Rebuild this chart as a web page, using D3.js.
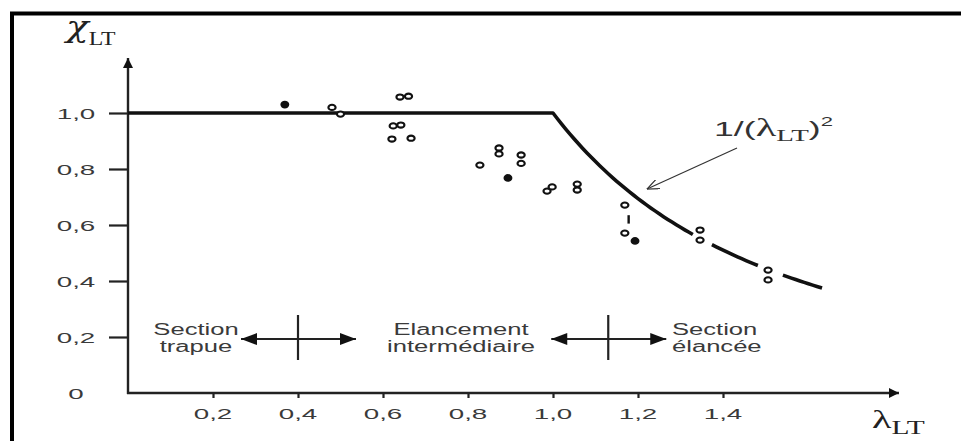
<!DOCTYPE html>
<html>
<head>
<meta charset="utf-8">
<script src="https://cdn.jsdelivr.net/npm/d3@7"></script>
<style>
  body { margin: 0; background: #fff; }
  svg { display: block; }
</style>
</head>
<body>
<svg id="chart" width="961" height="441"></svg>
<script>
const svg = d3.select("#chart");

// ticks
const xTicks = [0.2, 0.4, 0.6, 0.8, 1.0, 1.2, 1.4];
const yTicks = [0, 0.2, 0.4, 0.6, 0.8, 1.0];

// test results (lambda_LT, chi_LT, filled marker?)
const ptLambda = [0.369, 0.48, 0.50, 0.64, 0.66, 0.624, 0.642, 0.621, 0.666,
  0.873, 0.873, 0.828, 0.925, 0.925, 0.894, 0.986, 0.998, 1.057, 1.057,
  1.169, 1.169, 1.193, 1.346, 1.346, 1.506, 1.506];
const ptChi = [1.03, 1.02, 0.996, 1.057, 1.06, 0.954, 0.957, 0.907, 0.91,
  0.875, 0.854, 0.814, 0.85, 0.82, 0.768, 0.721, 0.736, 0.746, 0.725,
  0.671, 0.571, 0.543, 0.582, 0.546, 0.439, 0.404];
const ptFilled = [1, 0, 0, 0, 0, 0, 0, 0, 0,
  0, 0, 0, 0, 0, 1, 0, 0, 0, 0,
  0, 0, 1, 0, 0, 0, 0];

// curve pieces (lambda ranges), broken where the markers sit
const curveFrom = [0, 1.374, 1.541];
const curveTo = [1.329, 1.482, 1.633];

// regime limits and labels
const limits = [0.4, 1.13];
const regionText = [["Section", "trapue"], ["Elancement", "intermédiaire"], ["Section", "élancée"]];

const x = d3.scaleLinear().domain([0, 1.8]).range([128, 893]);
const y = d3.scaleLinear().domain([0, 1]).range([393, 113]);

const fmt = d => d === 0 ? "0" : d3.format(".1f")(d).replace(".", ",");
const SANS = "'Liberation Sans', Arial, sans-serif";
const SERIF = "'Liberation Serif', 'DejaVu Serif', serif";

// the source picture is stretched sideways, so the text is too
function wideText(px, py, str, size, sx, anchor) {
  return svg.append("text")
    .attr("transform", `translate(${px},${py}) scale(${sx},1)`)
    .attr("text-anchor", anchor || "middle")
    .attr("fill", "#3a3a3a")
    .attr("font-family", SANS).attr("font-size", size)
    .text(str);
}

// frame (top and left edges only, rest is cropped)
svg.append("line").attr("x1", 10).attr("x2", 961).attr("y1", 13.5).attr("y2", 13.5)
  .attr("stroke", "#000").attr("stroke-width", 4);
svg.append("line").attr("x1", 12).attr("x2", 12).attr("y1", 12).attr("y2", 441)
  .attr("stroke", "#000").attr("stroke-width", 4);

const defs = svg.append("defs");
defs.append("marker").attr("id", "head").attr("viewBox", "0 0 10 10")
  .attr("refX", 10).attr("refY", 5).attr("markerWidth", 11).attr("markerHeight", 10)
  .attr("markerUnits", "userSpaceOnUse").attr("orient", "auto-start-reverse")
  .append("path").attr("d", "M0,0 L10,5 L0,10 Z").attr("fill", "#111");
defs.append("marker").attr("id", "bighead").attr("viewBox", "0 0 16 12")
  .attr("refX", 16).attr("refY", 6).attr("markerWidth", 18).attr("markerHeight", 12)
  .attr("markerUnits", "userSpaceOnUse").attr("orient", "auto-start-reverse")
  .append("path").attr("d", "M0,0 L16,6 L0,12 Z").attr("fill", "#111");
defs.append("marker").attr("id", "thin").attr("viewBox", "0 0 12 10")
  .attr("refX", 12).attr("refY", 5).attr("markerWidth", 13).attr("markerHeight", 10)
  .attr("markerUnits", "userSpaceOnUse").attr("orient", "auto")
  .append("path").attr("d", "M0,0 L12,5 L0,10").attr("fill", "none")
  .attr("stroke", "#333").attr("stroke-width", 1.2);

// axes (ticks from d3, labels redrawn stretched)
const yAxis = svg.append("g").attr("transform", `translate(${x(0)},0)`)
  .call(d3.axisLeft(y).tickValues(yTicks.filter(d => d > 0)).tickSize(19).tickFormat(""));
const xAxis = svg.append("g").attr("transform", `translate(0,${y(0)})`)
  .call(d3.axisBottom(x).tickValues(xTicks).tickSize(5).tickFormat(""));
[yAxis, xAxis].forEach(g => {
  g.select(".domain").remove();
  g.selectAll(".tick line").attr("stroke", "#222").attr("stroke-width", 2.2);
});
yTicks.forEach(t => wideText(76, y(t) + 5.5, fmt(t), 15, 1.85));
xTicks.forEach(t => wideText(x(t), 419, fmt(t), 15, 1.85));

svg.append("line").attr("x1", x(0)).attr("x2", x(0)).attr("y1", y(0) + 1).attr("y2", 58)
  .attr("stroke", "#222").attr("stroke-width", 2.4).attr("marker-end", "url(#head)");
svg.append("line").attr("x1", x(0) - 1).attr("x2", 899).attr("y1", y(0)).attr("y2", y(0))
  .attr("stroke", "#222").attr("stroke-width", 2.4).attr("marker-end", "url(#head)");

// axis titles
const chi = svg.append("text").attr("transform", "translate(66,37) scale(1.25,1)").attr("fill", "#222")
  .attr("font-family", SERIF);
chi.append("tspan").attr("font-size", 30).attr("font-family", "'DejaVu Serif', serif")
  .attr("font-style", "italic").text("χ");
chi.append("tspan").attr("font-size", 19).attr("dy", 8).text("LT");

const lam = svg.append("text").attr("transform", "translate(872,428) scale(1.55,1)").attr("fill", "#222")
  .attr("font-family", SERIF);
lam.append("tspan").attr("font-size", 26).text("λ");
lam.append("tspan").attr("font-size", 19).attr("dy", 6).text("LT");

// design curve: plateau at 1 then 1/lambda^2
const chiCurve = l => l <= 1 ? 1 : 1 / (l * l);
const line = d3.line().x(d => x(d)).y(d => y(chiCurve(d)));
curveFrom.forEach((a, i) => {
  const pts = d3.range(a, curveTo[i], 0.01).concat([curveTo[i]]);
  if (a < 1 && curveTo[i] > 1) pts.push(1);
  pts.sort((p, q) => p - q);
  svg.append("path").attr("d", line(pts)).attr("fill", "none")
    .attr("stroke", "#111").attr("stroke-width", 3.6).attr("stroke-linejoin", "round");
});

// test points
svg.append("g").selectAll("ellipse").data(ptLambda).join("ellipse")
  .attr("cx", d => x(d)).attr("cy", (d, i) => y(ptChi[i]))
  .attr("rx", (d, i) => ptFilled[i] ? 3.4 : 3.6).attr("ry", (d, i) => ptFilled[i] ? 2.8 : 2.6)
  .attr("fill", (d, i) => ptFilled[i] ? "#111" : "#fff")
  .attr("stroke", "#111").attr("stroke-width", 2.1);
svg.append("line").attr("x1", x(1.178)).attr("x2", x(1.178)).attr("y1", y(0.635)).attr("y2", y(0.605))
  .attr("stroke", "#111").attr("stroke-width", 2.4);

// annotation of the curve
const ann = svg.append("text").attr("transform", "translate(714,136) scale(1.7,1)").attr("fill", "#333")
  .attr("font-family", SANS).attr("font-size", 21);
ann.append("tspan").text("1/(");
ann.append("tspan").attr("font-family", SERIF).attr("font-size", 25).text("λ");
ann.append("tspan").attr("font-family", SERIF).attr("font-size", 17).attr("dy", 5).text("LT");
ann.append("tspan").attr("dy", -5).text(")");
ann.append("tspan").attr("font-size", 13).attr("dy", -10).text("2");
svg.append("line").attr("x1", 737).attr("y1", 148).attr("x2", 647).attr("y2", 189)
  .attr("stroke", "#333").attr("stroke-width", 1.2).attr("marker-end", "url(#thin)");

// regime boundaries with double arrows
limits.forEach(l => {
  svg.append("line").attr("x1", x(l)).attr("x2", x(l)).attr("y1", 315).attr("y2", 360)
    .attr("stroke", "#222").attr("stroke-width", 2.2);
  svg.append("line").attr("x1", x(l) - 57).attr("x2", x(l) + 58).attr("y1", 339).attr("y2", 339)
    .attr("stroke", "#222").attr("stroke-width", 2.2)
    .attr("marker-start", "url(#bighead)").attr("marker-end", "url(#bighead)");
});

const regionX = [196, 461, 672];
const regionAnchor = ["middle", "middle", "start"];
regionText.forEach((lines, i) => {
  lines.forEach((t, j) => wideText(regionX[i], 335 + j * 17, t, 16, 1.6, regionAnchor[i]));
});
</script>
</body>
</html>
